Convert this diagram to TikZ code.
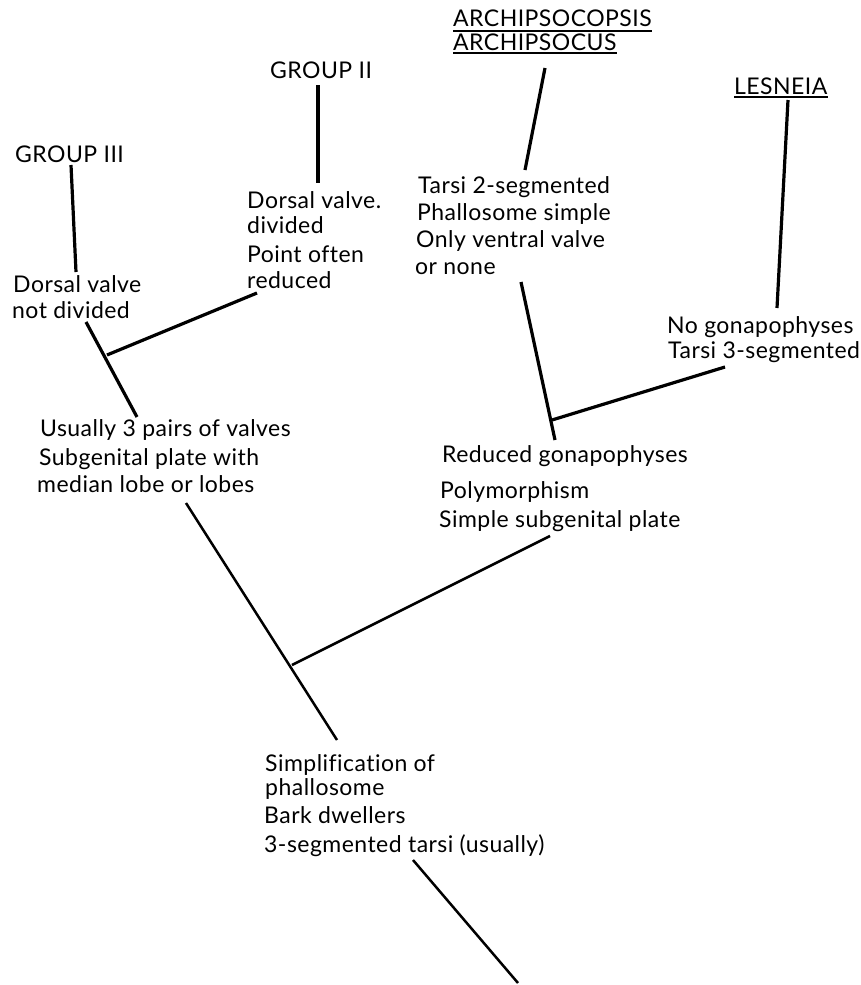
\documentclass[tikz,border=0pt]{standalone}
\usepackage{fontspec}
\setmainfont{Lato}[LetterSpace=2.0,Ligatures=NoCommon]
\begin{document}
\begin{tikzpicture}[x=1pt,y=1pt,
  lbl/.style={anchor=base west, inner sep=0pt, font=\fontsize{23}{27}\selectfont},
  thick branch/.style={line width=3.2pt},
  thin branch/.style={line width=2.5pt},
  uline/.style={line width=1.8pt}]
\useasboundingbox (0,0) rectangle (861,-985);
\fill[white] (0,0) rectangle (861,-985);

% ---- tip labels ----
\node[lbl] (g3) at (15,-162) {GROUP III};
\node[lbl] (g2) at (270,-78) {GROUP II};
\node[lbl] (ar1) at (453,-27) {ARCHIPSOCOPSIS};
\node[lbl] (ar2) at (453,-50) {ARCHIPSOCUS};
\node[lbl] (les) at (734,-94) {LESNEIA};
\draw[uline] ([yshift=-4pt]ar1.base west) -- ([yshift=-4pt]ar1.base east);
\draw[uline] ([yshift=-3pt]ar2.base west) -- ([yshift=-3pt]ar2.base east);
\draw[uline] ([yshift=-3pt]les.base west) -- ([yshift=-3pt]les.base east);

% ---- character blocks ----
\node[lbl] (c3a) at (13,-292) {Dorsal valve};
\node[lbl] (c3b) at (12,-318) {not divided};

\node[lbl] (c2a) at (247,-208) {Dorsal valve.};
\node[lbl] (c2b) at (247,-233) {divided};
\node[lbl] (c2c) at (247,-262) {Point often};
\node[lbl] (c2d) at (247,-288) {reduced};

\node[lbl] (caa) at (418,-193) {Tarsi 2-segmented};
\node[lbl] (cab) at (417,-220) {Phallosome simple};
\node[lbl] (cac) at (416,-247) {Only ventral valve};
\node[lbl] (cad) at (415,-274) {or none};

\node[lbl] (cla) at (667,-333) {No gonapophyses};
\node[lbl] (clb) at (668,-358) {Tarsi 3-segmented};

\node[lbl] (cua) at (40,-436) {Usually 3 pairs of valves};
\node[lbl] (cub) at (39,-465) {Subgenital plate with};
\node[lbl] (cuc) at (37,-492) {median lobe or lobes};

\node[lbl] (cra) at (442,-462) {Reduced gonapophyses};
\node[lbl] (crb) at (440,-498) {Polymorphism};
\node[lbl] (crc) at (439,-527) {Simple subgenital plate};

\node[lbl] (csa) at (265,-771) {Simplification of};
\node[lbl] (csb) at (265,-795) {phallosome};
\node[lbl] (csc) at (264,-823) {Bark dwellers};
\node[lbl] (csd) at (264,-852) {3-segmented tarsi (usually)};

% ---- branch points ----
\coordinate (g3t) at (71,-165);   \coordinate (g3b) at (76,-272);
\coordinate (g2t) at (318,-85);   \coordinate (g2b) at (318,-183);
\coordinate (lt) at (86,-322);    \coordinate (lb) at (137,-417);
\coordinate (lj) at (107,-355);   \coordinate (lr) at (257,-293);
\coordinate (art) at (545,-68);   \coordinate (arb) at (525,-170);
\coordinate (lst) at (788,-100);  \coordinate (lsb) at (777,-308);
\coordinate (rt) at (521,-282);   \coordinate (rb) at (555,-440);
\coordinate (rj) at (552,-420);   \coordinate (rr) at (725,-367);
\coordinate (mt) at (186,-503);   \coordinate (mb) at (337,-740);
\coordinate (mj) at (292,-665);   \coordinate (mr) at (550,-536);
\coordinate (bt) at (413,-860);   \coordinate (bb) at (518,-983);

\draw[thick branch] (g3t) -- (g3b);
\draw[thick branch] (g2t) -- (g2b);
\draw[thick branch] (lt) -- (lb);
\draw[thick branch] (lj) -- (lr);
\draw[thick branch] (art) -- (arb);
\draw[thick branch] (lst) -- (lsb);
\draw[thick branch] (rt) -- (rb);
\draw[thick branch] (rj) -- (rr);
\draw[thin branch] (mt) -- (mb);
\draw[thin branch] (mj) -- (mr);
\draw[thin branch] (bt) -- (bb);
\end{tikzpicture}
\end{document}
